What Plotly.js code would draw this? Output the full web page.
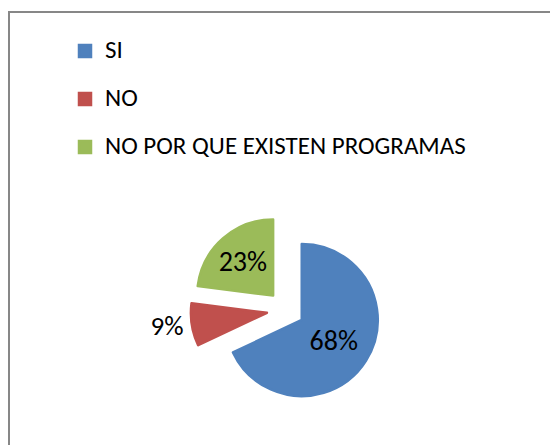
<!DOCTYPE html>
<html>
<head>
<meta charset="utf-8">
<script src="https://cdn.plot.ly/plotly-3.0.1.min.js"></script>
<style>html,body{margin:0;padding:0;background:#fff;}#chart{width:550px;height:445px;}</style>
</head>
<body>
<div id="chart"></div>
<script>
var categories = ['SI', 'NO', 'NO POR QUE EXISTEN PROGRAMAS'];
var values = [68, 9, 23];
var colors = ['#4F81BD', '#C0504D', '#9BBB59'];
var textPositions = ['inside', 'outside', 'inside'];

var FONT = 'Calibri, Carlito, Lato, sans-serif';
var legendLabels = categories.map(function (c) {
  return '<span style="font-size:25px;baseline-shift:6px">' + c + '</span>';
});

var trace = {
  type: 'pie',
  labels: legendLabels,
  values: values,
  sort: false,
  direction: 'clockwise',
  rotation: 0,
  pull: 0.25,
  marker: { colors: colors, line: { color: colors, width: 2.5 } },
  textinfo: 'percent',
  texttemplate: '%{percent:.0%}',
  textposition: textPositions,
  insidetextorientation: 'horizontal',
  insidetextfont: { family: FONT, size: 28, color: '#000000' },
  outsidetextfont: { family: FONT, size: 27, color: '#000000' },
  domain: { x: [0.3467, 0.6922], y: [0.0903, 0.5173] },
  hoverinfo: 'none'
};

var layout = {
  width: 550,
  height: 445,
  margin: { l: 0, r: 0, t: 0, b: 0 },
  paper_bgcolor: '#ffffff',
  showlegend: true,
  legend: {
    x: 65 / 550, xanchor: 'left',
    y: 1 - 22 / 445, yanchor: 'top',
    font: { family: FONT, size: 34.6, color: '#000000' },
    bgcolor: 'rgba(0,0,0,0)',
    traceorder: 'normal'
  },
  shapes: [{
    type: 'rect', xref: 'paper', yref: 'paper',
    x0: 9 / 550, x1: 1.2, y0: -0.2, y1: 1 - 12 / 445,
    line: { color: '#878787', width: 2 },
    fillcolor: 'rgba(0,0,0,0)'
  }]
};

Plotly.newPlot('chart', [trace], layout, { staticPlot: true, displayModeBar: false });
</script>
</body>
</html>
